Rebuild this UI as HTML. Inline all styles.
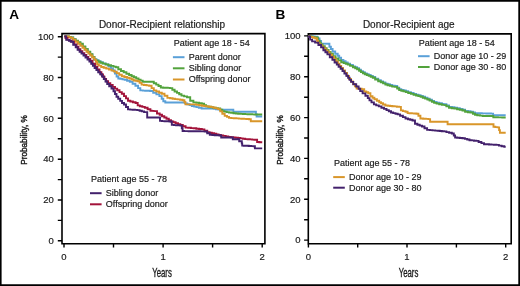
<!DOCTYPE html>
<html><head><meta charset="utf-8"><style>
html,body{margin:0;padding:0;background:#fff;}
svg{display:block;will-change:transform;}
text{font-family:"Liberation Sans", sans-serif;fill:#1a1a1a;stroke:#1a1a1a;stroke-width:0.18px;}
.pl{font-size:13.6px;font-weight:bold;fill:#000;stroke:none;}
.tt{font-size:10px;}
.tl{font-size:9.5px;}
.lg{font-size:9px;}
.ax{font-size:12px;stroke-width:0.35px;}
.yl{font-size:9.5px;stroke-width:0.4px;}
</style></head><body>
<svg width="520" height="286" viewBox="0 0 520 286">
<rect width="520" height="286" fill="#fff"/><path d="M0 0H520V1.7H0Z M0 0H1.6V286H0Z M518.3 0H520V286H518.3Z M0 284.2H520V286H0Z" fill="#000"/>
<text x="9.2" y="19.3" class="pl">A</text>
<text x="275.6" y="19.3" class="pl">B</text>
<text x="98.9" y="27.9" class="tt">Donor-Recipient relationship</text>
<text x="362.9" y="28" class="tt">Donor-Recipient age</text>
<path d="M62 33.6H264.9V243.8H62Z" fill="none" stroke="#000" stroke-width="1.6" stroke-linejoin="miter"/>
<path d="M57.8 240.8H62M57.8 220.4H62M57.8 200H62M57.8 179.6H62M57.8 159.2H62M57.8 138.8H62M57.8 118.3H62M57.8 97.9H62M57.8 77.5H62M57.8 57.1H62M57.8 36.7H62M64 243.8V247.6M113.5 243.8V247.6M163.1 243.8V247.6M212.6 243.8V247.6M262.2 243.8V247.6" stroke="#000" stroke-width="1.4" fill="none"/>
<text x="53.9" y="244.1" text-anchor="end" class="tl">0</text>
<text x="53.9" y="203.2" text-anchor="end" class="tl">20</text>
<text x="53.9" y="162.4" text-anchor="end" class="tl">40</text>
<text x="53.9" y="121.6" text-anchor="end" class="tl">60</text>
<text x="53.9" y="80.8" text-anchor="end" class="tl">80</text>
<text x="53.9" y="40" text-anchor="end" class="tl">100</text>
<text x="64" y="260.3" text-anchor="middle" class="tl">0</text>
<text x="163.1" y="260.3" text-anchor="middle" class="tl">1</text>
<text x="262.2" y="260.3" text-anchor="middle" class="tl">2</text>
<path d="M308.3 33.9H511.2V243.8H308.3Z" fill="none" stroke="#000" stroke-width="1.6" stroke-linejoin="miter"/>
<path d="M304.1 240.1H308.3M304.1 219.7H308.3M304.1 199.3H308.3M304.1 178.8H308.3M304.1 158.4H308.3M304.1 138H308.3M304.1 117.6H308.3M304.1 97.2H308.3M304.1 76.7H308.3M304.1 56.3H308.3M304.1 35.9H308.3M308.4 243.8V247.6M357.7 243.8V247.6M407 243.8V247.6M456.4 243.8V247.6M505.7 243.8V247.6" stroke="#000" stroke-width="1.4" fill="none"/>
<text x="300.6" y="243.3" text-anchor="end" class="tl">0</text>
<text x="300.6" y="202.5" text-anchor="end" class="tl">20</text>
<text x="300.6" y="161.7" text-anchor="end" class="tl">40</text>
<text x="300.6" y="120.8" text-anchor="end" class="tl">60</text>
<text x="300.6" y="80" text-anchor="end" class="tl">80</text>
<text x="300.6" y="39.2" text-anchor="end" class="tl">100</text>
<text x="308.4" y="260.3" text-anchor="middle" class="tl">0</text>
<text x="407" y="260.3" text-anchor="middle" class="tl">1</text>
<text x="505.7" y="260.3" text-anchor="middle" class="tl">2</text>
<text transform="translate(162,276.6) scale(0.65,1)" text-anchor="middle" class="ax">Years</text>
<text transform="translate(408.5,276.6) scale(0.65,1)" text-anchor="middle" class="ax">Years</text>
<text transform="translate(26.9,140) rotate(-90) scale(0.865,1)" text-anchor="middle" class="yl">Probability, %</text>
<text transform="translate(282.9,140) rotate(-90) scale(0.865,1)" text-anchor="middle" class="yl">Probability, %</text>
<path d="M64.4 36.4 L67.9 36.4 L68.9 36.4 L68.9 37 L71 37 L71 37.5 L72 37.5 L73.2 37.5 L73.2 39.2 L75.6 39.2 L75.6 41 L78 41 L78 42.8 L80.4 42.8 L80.4 44.5 L81.6 44.5 L82.8 44.5 L82.8 47 L85.3 47 L85.3 49.5 L87.7 49.5 L87.7 52 L90.2 52 L90.2 54.5 L91.4 54.5 L92.4 54.5 L92.4 56.9 L94.4 56.9 L94.4 59.2 L95.4 59.2 L96.4 59.2 L96.4 60.2 L98.5 60.2 L98.5 61.3 L100.5 61.3 L100.5 62.3 L101.5 62.3 L102.8 62.3 L102.8 63.4 L105.6 63.4 L105.6 64.5 L106.9 64.5 L108.5 64.5 L108.5 66.5 L110 66.5 L111 66.5 L111 68.5 L113 68.5 L113 70.5 L114 70.5 L114.9 70.5 L114.9 73.5 L116.6 73.5 L116.6 76.5 L117.5 76.5 L118.3 76.5 L118.3 78.5 L119.2 78.5 L120.3 78.5 L120.3 78.9 L122.5 78.9 L122.5 79.4 L124.7 79.4 L124.7 79.8 L125.8 79.8 L127.1 79.8 L127.1 80.8 L129.8 80.8 L129.8 81.7 L131.1 81.7 L132.6 81.7 L132.6 83.8 L135.4 83.8 L135.4 85.8 L136.9 85.8 L138.1 85.8 L138.1 88.1 L140.3 88.1 L140.3 90.4 L141.5 90.4 L142.8 90.4 L142.8 90.6 L145.2 90.6 L145.2 90.7 L147.8 90.7 L147.8 90.8 L150.2 90.8 L150.2 91 L151.5 91 L153.2 91 L153.2 92.7 L155 92.7 L156.4 92.7 L156.4 94.4 L159.4 94.4 L159.4 96.1 L160.8 96.1 L161.7 96.1 L161.7 98.7 L163.3 98.7 L163.3 101.3 L164.2 101.3 L165.3 101.3 L165.3 102.5 L166.5 102.5 L183.8 102.5 L185 102.5 L185 103.4 L187.2 103.4 L187.2 104.2 L189.6 104.2 L189.6 105.1 L191.8 105.1 L191.8 106 L193 106 L194.2 106 L194.2 106.6 L196.5 106.6 L196.5 107.1 L198.8 107.1 L198.8 107.7 L200 107.7 L201.6 107.7 L201.6 108.5 L203.1 108.5 L212.5 108.5 L213.7 108.5 L213.7 108.8 L216 108.8 L216 109.2 L218.4 109.2 L218.4 109.5 L220.7 109.5 L220.7 109.8 L221.9 109.8 L232.7 109.8 L233.3 109.8 L233.3 111.8 L234 111.8 L255.6 111.8 L255.9 111.8 L255.9 114.2 L256.6 114.2 L256.6 116.5 L256.9 116.5 L262.2 116.5" fill="none" stroke="#5aa0d8" stroke-width="1.9" stroke-linejoin="miter" stroke-linecap="butt"/>
<path d="M64.4 36.4 L67.9 36.4 L68.9 36.4 L68.9 37 L71 37 L71 37.5 L72 37.5 L73.2 37.5 L73.2 39.1 L75.6 39.1 L75.6 40.6 L78 40.6 L78 42.2 L80.4 42.2 L80.4 43.8 L81.6 43.8 L82.8 43.8 L82.8 46.4 L85.3 46.4 L85.3 49 L87.7 49 L87.7 51.6 L90.2 51.6 L90.2 54.2 L91.4 54.2 L92.4 54.2 L92.4 56.9 L94.4 56.9 L94.4 59.6 L95.4 59.6 L96.4 59.6 L96.4 60.7 L98.5 60.7 L98.5 61.7 L100.5 61.7 L100.5 62.8 L101.5 62.8 L102.8 62.8 L102.8 63.6 L105.6 63.6 L105.6 64.4 L106.9 64.4 L108.2 64.4 L108.2 65.2 L111 65.2 L111 65.9 L112.3 65.9 L113.5 65.9 L113.5 66.6 L115.8 66.6 L115.8 67.3 L116.9 67.3 L118.3 67.3 L118.3 69.2 L121 69.2 L121 71 L122.4 71 L123.7 71 L123.7 72.3 L126.4 72.3 L126.4 73.7 L129.1 73.7 L129.1 75 L130.4 75 L131.6 75 L131.6 76.2 L133.9 76.2 L133.9 77.3 L136.2 77.3 L136.2 78.5 L137.4 78.5 L138.5 78.5 L138.5 79.6 L140.6 79.6 L140.6 80.6 L142.7 80.6 L142.7 81.7 L143.8 81.7 L152.7 81.7 L153.8 81.7 L153.8 83.2 L156.2 83.2 L156.2 84.6 L157.3 84.6 L158.5 84.6 L158.5 86 L160.8 86 L160.8 87.5 L161.9 87.5 L163.1 87.5 L163.1 87.7 L165.3 87.7 L165.3 87.8 L167.7 87.8 L167.7 87.9 L169.9 87.9 L169.9 88.1 L171.1 88.1 L172.3 88.1 L172.3 89.8 L174.6 89.8 L174.6 91.5 L175.8 91.5 L177 91.5 L177 92.9 L179.2 92.9 L179.2 94.2 L181.5 94.2 L181.5 95.6 L182.7 95.6 L184.1 95.6 L184.1 96.4 L187 96.4 L187 97.3 L188.4 97.3 L190.2 97.3 L190.2 100.8 L191.9 100.8 L193.4 100.8 L193.4 102.4 L195 102.4 L196.3 102.4 L196.3 102.8 L199.1 102.8 L199.1 103.3 L201.8 103.3 L201.8 103.7 L203.1 103.7 L204.1 103.7 L204.1 105.1 L206.1 105.1 L206.1 106.4 L207.1 106.4 L208.3 106.4 L208.3 106.8 L210.7 106.8 L210.7 107.2 L213.1 107.2 L213.1 107.7 L215.6 107.7 L215.6 108.1 L218 108.1 L218 108.5 L219.2 108.5 L220.2 108.5 L220.2 109.8 L222.3 109.8 L222.3 111.2 L223.3 111.2 L224.4 111.2 L224.4 111.6 L226.7 111.6 L226.7 112.1 L228.9 112.1 L228.9 112.5 L230 112.5 L231.2 112.5 L231.2 112.8 L233.5 112.8 L233.5 113.2 L235.9 113.2 L235.9 113.5 L238.2 113.5 L238.2 113.8 L239.4 113.8 L240.6 113.8 L240.6 113.9 L242.9 113.9 L242.9 114 L245.2 114 L245.2 114.1 L247.5 114.1 L247.5 114.2 L249.8 114.2 L249.8 114.3 L252.1 114.3 L252.1 114.4 L254.4 114.4 L254.4 114.5 L255.6 114.5 L262.2 114.5" fill="none" stroke="#52a33c" stroke-width="1.9" stroke-linejoin="miter" stroke-linecap="butt"/>
<path d="M64.4 36.4 L67.9 36.4 L68.9 36.4 L68.9 37.1 L70.8 37.1 L70.8 37.9 L71.8 37.9 L73 37.9 L73 39.8 L75.5 39.8 L75.5 41.8 L76.7 41.8 L77.9 41.8 L77.9 43.8 L80.4 43.8 L80.4 45.7 L81.6 45.7 L82.6 45.7 L82.6 47.7 L84.5 47.7 L84.5 49.7 L85.5 49.7 L86.5 49.7 L86.5 51.7 L88.4 51.7 L88.4 53.6 L89.4 53.6 L90.4 53.6 L90.4 55.5 L92.3 55.5 L92.3 57.5 L93.3 57.5 L94.3 57.5 L94.3 59.6 L95.4 59.6 L96 59.6 L96 61.9 L97.1 61.9 L97.1 64.2 L97.7 64.2 L98.8 64.2 L98.8 65.6 L101.2 65.6 L101.2 67 L102.3 67 L103.7 67 L103.7 67.8 L106.3 67.8 L106.3 68.6 L107.7 68.6 L109 68.6 L109 69.6 L111.6 69.6 L111.6 70.6 L114.1 70.6 L114.1 71.6 L115.4 71.6 L116.7 71.6 L116.7 73.1 L119.2 73.1 L119.2 74.7 L121.8 74.7 L121.8 76.2 L123.1 76.2 L124.4 76.2 L124.4 77 L127 77 L127 77.7 L129.5 77.7 L129.5 78.5 L130.8 78.5 L131.8 78.5 L131.8 79.5 L133.7 79.5 L133.7 80.5 L134.6 80.5 L135.6 80.5 L135.6 80.8 L137.5 80.8 L137.5 81.2 L138.5 81.2 L139.6 81.2 L139.6 82.9 L141.6 82.9 L141.6 84.6 L142.7 84.6 L144 84.6 L144 85 L146.6 85 L146.6 85.4 L149.1 85.4 L149.1 85.8 L150.4 85.8 L151.6 85.8 L151.6 88.1 L153.8 88.1 L153.8 90.4 L155 90.4 L156.3 90.4 L156.3 91.5 L159.1 91.5 L159.1 92.7 L161.8 92.7 L161.8 93.8 L163.1 93.8 L164.5 93.8 L164.5 95.8 L167.4 95.8 L167.4 97.9 L168.8 97.9 L170.1 97.9 L170.1 98.3 L172.6 98.3 L172.6 98.7 L175.1 98.7 L175.1 99.1 L177.6 99.1 L177.6 99.4 L180.1 99.4 L180.1 99.8 L182.6 99.8 L182.6 100.2 L183.8 100.2 L184.4 100.2 L184.4 102.2 L185.5 102.2 L185.5 104.2 L186.1 104.2 L195 104.4 L196.3 104.4 L196.3 104.9 L199.1 104.9 L199.1 105.3 L201.8 105.3 L201.8 105.8 L203.1 105.8 L204.3 105.8 L204.3 106.1 L206.6 106.1 L206.6 106.4 L209 106.4 L209 106.8 L211.3 106.8 L211.3 107.1 L212.5 107.1 L213.6 107.1 L213.6 107.8 L215.8 107.8 L215.8 108.4 L218.1 108.4 L218.1 109.1 L219.2 109.1 L220.2 109.1 L220.2 111.4 L222.3 111.4 L222.3 113.8 L223.3 113.8 L224.7 113.8 L224.7 115.9 L226 115.9 L227 115.9 L227 116.9 L229 116.9 L229 117.9 L230 117.9 L231.3 117.9 L231.3 118.1 L233.8 118.1 L233.8 118.2 L236.3 118.2 L236.3 118.4 L238.8 118.4 L238.8 118.6 L241.4 118.6 L241.4 118.7 L243.9 118.7 L243.9 118.9 L246.4 118.9 L246.4 119 L248.9 119 L248.9 119.2 L250.2 119.2 L250.8 119.2 L250.8 121.2 L251.5 121.2 L262.2 121.2" fill="none" stroke="#d9962a" stroke-width="1.9" stroke-linejoin="miter" stroke-linecap="butt"/>
<path d="M64.4 36.4 L65.5 36.4 L65.5 38 L67.5 38 L67.5 39.6 L68.6 39.6 L69.6 39.6 L69.6 40.6 L71.6 40.6 L71.6 41.6 L72.6 41.6 L74 41.6 L74 44.4 L75.5 44.4 L76.5 44.4 L76.5 46.8 L78.4 46.8 L78.4 49.2 L79.4 49.2 L80.4 49.2 L80.4 51.2 L82.3 51.2 L82.3 53.1 L83.3 53.1 L84.3 53.1 L84.3 55 L86.3 55 L86.3 57 L87.3 57 L88.3 57 L88.3 58.9 L90.2 58.9 L90.2 60.8 L91.2 60.8 L92.5 60.8 L92.5 63.8 L95 63.8 L95 66.8 L96.2 66.8 L97.3 66.8 L97.3 69.5 L99.5 69.5 L99.5 72.3 L100.6 72.3 L101.4 72.3 L101.4 74.5 L103 74.5 L103 76.8 L104.5 76.8 L104.5 79 L106.1 79 L106.1 81.2 L106.9 81.2 L108.1 81.2 L108.1 83.1 L110.3 83.1 L110.3 85 L112.7 85 L112.7 86.9 L113.8 86.9 L115 86.9 L115 88.6 L117.2 88.6 L117.2 90.3 L119.5 90.3 L119.5 92.1 L121.8 92.1 L121.8 93.8 L123 93.8 L124 93.8 L124 96.1 L126 96.1 L126 98.4 L128 98.4 L128 100.7 L129 100.7 L130.3 100.7 L130.3 101.5 L132.9 101.5 L132.9 102.2 L135.6 102.2 L135.6 103 L136.9 103 L137.7 103 L137.7 105.4 L138.5 105.4 L139.8 105.4 L139.8 106.2 L142.3 106.2 L142.3 106.9 L144.8 106.9 L144.8 107.7 L146.1 107.7 L147.6 107.7 L147.6 109.2 L150.4 109.2 L150.4 110.8 L151.9 110.8 L155.4 111.1 L157 111.1 L157 113.5 L158.6 113.5 L159.7 113.5 L159.7 114.8 L162 114.8 L162 116.2 L164.3 116.2 L164.3 117.5 L165.4 117.5 L166.5 117.5 L166.5 118.8 L168.8 118.8 L168.8 120.2 L171 120.2 L171 121.5 L172.1 121.5 L173.3 121.5 L173.3 122.3 L175.6 122.3 L175.6 123.2 L178 123.2 L178 124.1 L180.3 124.1 L180.3 124.9 L181.5 124.9 L182.8 124.9 L182.8 126.2 L185.6 126.2 L185.6 127.6 L186.9 127.6 L188.2 127.6 L188.2 127.8 L190.9 127.8 L190.9 128.1 L193.7 128.1 L193.7 128.3 L195 128.3 L196.3 128.3 L196.3 128.7 L199.1 128.7 L199.1 129 L201.8 129 L201.8 129.4 L203.1 129.4 L204.4 129.4 L204.4 130.8 L207.2 130.8 L207.2 132.1 L208.5 132.1 L209.6 132.1 L209.6 132.7 L211.8 132.7 L211.8 133.2 L214.1 133.2 L214.1 133.8 L216.3 133.8 L216.3 134.4 L218.6 134.4 L218.6 134.9 L220.8 134.9 L220.8 135.5 L221.9 135.5 L223.2 135.5 L223.2 135.9 L225.7 135.9 L225.7 136.4 L228.3 136.4 L228.3 136.9 L230.8 136.9 L230.8 137.3 L232.1 137.3 L233.3 137.3 L233.3 137.5 L235.6 137.5 L235.6 137.8 L238 137.8 L238 138 L239.2 138 L240.4 138 L240.4 138.4 L242.8 138.4 L242.8 138.7 L245.2 138.7 L245.2 139.1 L246.4 139.1 L247.6 139.1 L247.6 139.3 L249.8 139.3 L249.8 139.4 L252.2 139.4 L252.2 139.6 L254.4 139.6 L254.4 139.8 L255.6 139.8 L257.1 139.8 L257.1 142 L258.5 142 L259.4 142 L259.4 142.2 L261.3 142.2 L261.3 142.3 L262.2 142.3" fill="none" stroke="#a3133a" stroke-width="1.9" stroke-linejoin="miter" stroke-linecap="butt"/>
<path d="M64.4 36.4 L66.2 36.4 L66.2 39.9 L67.9 39.9 L68.9 39.9 L68.9 40.8 L70.8 40.8 L70.8 41.8 L71.8 41.8 L73.2 41.8 L73.2 44.8 L74.7 44.8 L75.7 44.8 L75.7 47.2 L77.6 47.2 L77.6 49.7 L78.6 49.7 L79.6 49.7 L79.6 51.7 L81.5 51.7 L81.5 53.6 L82.5 53.6 L83.5 53.6 L83.5 55.5 L85.5 55.5 L85.5 57.5 L86.5 57.5 L87.5 57.5 L87.5 59.5 L89.4 59.5 L89.4 61.5 L90.4 61.5 L91.2 61.5 L91.2 63.7 L92.9 63.7 L92.9 65.8 L94.6 65.8 L94.6 68 L95.4 68 L96.4 68 L96.4 70.1 L98.2 70.1 L98.2 72.2 L99.2 72.2 L100.2 72.2 L100.2 74.3 L102 74.3 L102 76.5 L103 76.5 L103.8 76.5 L103.8 79 L105.5 79 L105.5 81.5 L107.2 81.5 L107.2 84 L108 84 L109.2 84 L109.2 86.2 L111.5 86.2 L111.5 88.5 L112.7 88.5 L113.5 88.5 L113.5 91.2 L115 91.2 L115 94 L116.5 94 L116.5 96.7 L117.3 96.7 L118.2 96.7 L118.2 98.8 L120.2 98.8 L120.2 100.9 L122 100.9 L122 103 L123 103 L124 103 L124 104.5 L125 104.5 L126 104.5 L126 107 L128 107 L128 109.4 L129 109.4 L130.2 109.4 L130.2 109.6 L132.6 109.6 L132.6 109.8 L134.9 109.8 L134.9 109.9 L137.3 109.9 L137.3 110.1 L138.5 110.1 L139.6 110.1 L139.6 110.8 L141.8 110.8 L141.8 111.4 L144.1 111.4 L144.1 112.1 L145.2 112.1 L147.2 112.1 L147.2 117.5 L159.3 117.5 L160 117.5 L160 120.9 L160.7 120.9 L162 120.9 L162 121.1 L164.5 121.1 L164.5 121.2 L167 121.2 L167 121.3 L169.5 121.3 L169.5 121.5 L170.8 121.5 L171.8 121.5 L171.8 124.9 L172.8 124.9 L173.9 124.9 L173.9 125.1 L176.1 125.1 L176.1 125.2 L178.2 125.2 L178.2 125.4 L180.4 125.4 L180.4 125.6 L181.5 125.6 L181.8 125.6 L181.8 128.3 L182.6 128.3 L182.6 131 L182.9 131 L184 131 L184 131.1 L186.3 131.1 L186.3 131.1 L188.6 131.1 L188.6 131.2 L190.9 131.2 L190.9 131.2 L193.2 131.2 L193.2 131.2 L195.5 131.2 L195.5 131.3 L197.8 131.3 L197.8 131.3 L200.1 131.3 L200.1 131.4 L202.4 131.4 L202.4 131.4 L204.7 131.4 L204.7 131.5 L205.8 131.5 L207.2 131.5 L207.2 133.2 L209.8 133.2 L209.8 134.8 L211.2 134.8 L212.4 134.8 L212.4 135 L214.7 135 L214.7 135.2 L217.1 135.2 L217.1 135.3 L219.4 135.3 L219.4 135.5 L220.6 135.5 L221.2 135.5 L221.2 137.5 L221.9 137.5 L232.8 137.5 L232.8 139.3 L239.2 139.3 L239.2 141.3 L241.5 141.3 L241.8 141.3 L241.8 143.4 L242.2 143.4 L242.2 145.6 L242.5 145.6 L243.7 145.6 L243.7 145.7 L246.2 145.7 L246.2 145.8 L248.7 145.8 L248.7 146 L251.2 146 L251.2 146.1 L253.7 146.1 L253.7 146.2 L254.9 146.2 L254.9 148.3 L262.2 148.4" fill="none" stroke="#43216c" stroke-width="1.9" stroke-linejoin="miter" stroke-linecap="butt"/>
<path d="M308.4 36 L309.7 36 L309.7 36.3 L312.2 36.3 L312.2 36.5 L314.7 36.5 L314.7 36.8 L316 36.8 L317.2 36.8 L317.2 38.5 L318.5 38.5 L319.5 38.5 L319.5 41 L320.5 41 L321.1 41 L321.1 43.5 L321.7 43.5 L328.8 43.8 L329.4 43.8 L329.4 46.7 L330 46.7 L330.9 46.7 L330.9 49 L331.8 49 L332.6 49 L332.6 51.5 L333.5 51.5 L335.2 51.5 L335.2 53.8 L336.9 53.8 L337.7 53.8 L337.7 55.8 L339.2 55.8 L339.2 57.7 L340 57.7 L341.1 57.7 L341.1 60 L342.3 60 L343.4 60 L343.4 61.2 L345.6 61.2 L345.6 62.5 L347.7 62.5 L347.7 63.7 L348.8 63.7 L350.1 63.7 L350.1 65 L352.9 65 L352.9 66.4 L354.2 66.4 L355.2 66.4 L355.2 67.3 L357.1 67.3 L357.1 68.3 L358.1 68.3 L359.1 68.3 L359.1 69.8 L360.9 69.8 L360.9 71.2 L361.9 71.2 L362.9 71.2 L362.9 72.3 L364.8 72.3 L364.8 73.4 L365.8 73.4 L366.8 73.4 L366.8 74.2 L368.7 74.2 L368.7 75 L369.6 75 L370.7 75 L370.7 75.9 L372.8 75.9 L372.8 76.9 L373.8 76.9 L375.2 76.9 L375.2 78.6 L378.2 78.6 L378.2 80.3 L379.6 80.3 L380.8 80.3 L380.8 81.4 L383.1 81.4 L383.1 82.5 L385.4 82.5 L385.4 83.6 L386.5 83.6 L387.6 83.6 L387.6 84.3 L389.9 84.3 L389.9 85 L392.2 85 L392.2 85.7 L393.4 85.7 L394.8 85.7 L394.8 86 L396.2 86 L397.2 86 L397.2 87.6 L399.2 87.6 L399.2 89.2 L400.2 89.2 L401.3 89.2 L401.3 89.9 L403.5 89.9 L403.5 90.5 L405.8 90.5 L405.8 91.2 L406.9 91.2 L408.2 91.2 L408.2 92.1 L410.9 92.1 L410.9 93 L413.6 93 L413.6 93.9 L415 93.9 L416.1 93.9 L416.1 94.6 L418.4 94.6 L418.4 95.2 L420.6 95.2 L420.6 95.9 L421.7 95.9 L422.8 95.9 L422.8 96.8 L425.1 96.8 L425.1 97.7 L427.4 97.7 L427.4 98.6 L428.5 98.6 L429.6 98.6 L429.6 99.7 L431.9 99.7 L431.9 100.9 L434.1 100.9 L434.1 102 L435.2 102 L436.6 102 L436.6 102.7 L439.2 102.7 L439.2 103.3 L441.9 103.3 L441.9 104 L443.3 104 L445 104.2 L446.4 104.2 L446.4 105.5 L449 105.5 L449 106.9 L450.4 106.9 L451.8 106.9 L451.8 107.2 L454.4 107.2 L454.4 107.6 L455.8 107.6 L457.1 107.6 L457.1 108.3 L459.8 108.3 L459.8 108.9 L462.5 108.9 L462.5 109.6 L463.8 109.6 L465.1 109.6 L465.1 110.9 L466.5 110.9 L467.9 110.9 L467.9 111.3 L470.5 111.3 L470.5 111.8 L471.9 111.8 L472.9 111.8 L472.9 112.5 L475 112.5 L475 113.2 L476 113.2 L477.1 113.2 L477.1 113.3 L479.4 113.3 L479.4 113.3 L481.8 113.3 L481.8 113.4 L484.1 113.4 L484.1 113.4 L486.4 113.4 L486.4 113.5 L488.7 113.5 L488.7 113.5 L491 113.5 L491 113.6 L492.1 113.6 L493.1 113.6 L493.1 115 L494 115 L505.7 115.3" fill="none" stroke="#5aa0d8" stroke-width="1.9" stroke-linejoin="miter" stroke-linecap="butt"/>
<path d="M308.4 36 L309.3 36 L309.3 36.4 L311.1 36.4 L311.1 36.8 L312 36.8 L313.2 36.8 L313.2 37.1 L315.6 37.1 L315.6 37.5 L316.8 37.5 L318 37.5 L318 40.7 L319.1 40.7 L319.7 40.7 L319.7 42.6 L320.8 42.6 L320.8 44.5 L321.4 44.5 L322.6 44.5 L322.6 46.2 L323.8 46.2 L324.8 46.2 L324.8 48.1 L326.7 48.1 L326.7 50 L327.7 50 L328.6 50 L328.6 51.9 L330.6 51.9 L330.6 53.8 L331.5 53.8 L332.9 53.8 L332.9 56.1 L335.5 56.1 L335.5 58.5 L336.9 58.5 L338.3 58.5 L338.3 60.4 L341.2 60.4 L341.2 62.3 L342.7 62.3 L343.7 62.3 L343.7 63.1 L345.8 63.1 L345.8 63.8 L347.8 63.8 L347.8 64.6 L348.8 64.6 L350.1 64.6 L350.1 65.9 L352.9 65.9 L352.9 67.3 L354.2 67.3 L355.2 67.3 L355.2 68.2 L357.1 68.2 L357.1 69.2 L358.1 69.2 L359.1 69.2 L359.1 70.7 L360.9 70.7 L360.9 72.1 L361.9 72.1 L362.9 72.1 L362.9 73.2 L364.8 73.2 L364.8 74.3 L365.8 74.3 L366.8 74.3 L366.8 75.1 L368.7 75.1 L368.7 75.9 L369.6 75.9 L370.7 75.9 L370.7 76.8 L372.8 76.8 L372.8 77.8 L373.8 77.8 L375.2 77.8 L375.2 79.5 L378.2 79.5 L378.2 81.2 L379.6 81.2 L380.8 81.2 L380.8 82.3 L383.1 82.3 L383.1 83.4 L385.4 83.4 L385.4 84.5 L386.5 84.5 L387.6 84.5 L387.6 85.2 L389.9 85.2 L389.9 85.9 L392.2 85.9 L392.2 86.6 L393.4 86.6 L394.8 86.6 L394.8 86.9 L396.2 86.9 L397.2 86.9 L397.2 88.5 L399.2 88.5 L399.2 90.1 L400.2 90.1 L401.3 90.1 L401.3 90.8 L403.5 90.8 L403.5 91.4 L405.8 91.4 L405.8 92.1 L406.9 92.1 L408.2 92.1 L408.2 93 L410.9 93 L410.9 93.9 L413.6 93.9 L413.6 94.8 L415 94.8 L416.1 94.8 L416.1 95.5 L418.4 95.5 L418.4 96.1 L420.6 96.1 L420.6 96.8 L421.7 96.8 L422.8 96.8 L422.8 97.7 L425.1 97.7 L425.1 98.6 L427.4 98.6 L427.4 99.5 L428.5 99.5 L429.6 99.5 L429.6 100.6 L431.9 100.6 L431.9 101.8 L434.1 101.8 L434.1 102.9 L435.2 102.9 L436.6 102.9 L436.6 103.6 L439.2 103.6 L439.2 104.2 L441.9 104.2 L441.9 104.9 L443.3 104.9 L445 105.1 L446.4 105.1 L446.4 106.4 L449 106.4 L449 107.8 L450.4 107.8 L451.8 107.8 L451.8 108.2 L454.4 108.2 L454.4 108.5 L455.8 108.5 L457.1 108.5 L457.1 109.2 L459.8 109.2 L459.8 109.8 L462.5 109.8 L462.5 110.5 L463.8 110.5 L465.1 110.5 L465.1 111.8 L466.5 111.8 L467.9 111.8 L467.9 112.2 L470.5 112.2 L470.5 112.5 L471.9 112.5 L472.9 112.5 L472.9 113.7 L475 113.7 L475 114.8 L476 114.8 L477.3 114.8 L477.3 115.2 L480 115.2 L480 115.6 L482.7 115.6 L482.7 116 L484 116 L492.1 116 L493.3 116 L493.3 117.2 L494.5 117.2 L495.6 117.2 L495.6 117.3 L497.9 117.3 L497.9 117.4 L500.1 117.4 L500.1 117.4 L502.3 117.4 L502.3 117.5 L504.6 117.5 L504.6 117.6 L505.7 117.6" fill="none" stroke="#52a33c" stroke-width="1.9" stroke-linejoin="miter" stroke-linecap="butt"/>
<path d="M308.4 36.2 L309.3 36.2 L309.3 36.6 L311.1 36.6 L311.1 37 L312 37 L313.1 37 L313.1 37.8 L315.4 37.8 L315.4 38.5 L316.5 38.5 L317 38.5 L317 40.8 L318 40.8 L318 43 L318.5 43 L319.5 43 L319.5 44.8 L321.6 44.8 L321.6 46.7 L323.6 46.7 L323.6 48.5 L324.6 48.5 L325.6 48.5 L325.6 50.4 L327.5 50.4 L327.5 52.3 L328.5 52.3 L329.6 52.3 L329.6 54.6 L332 54.6 L332 56.9 L333.1 56.9 L334.1 56.9 L334.1 59.2 L336 59.2 L336 61.5 L337.9 61.5 L337.9 63.8 L338.8 63.8 L339.6 63.8 L339.6 65.9 L341.2 65.9 L341.2 68 L342 68 L343 68 L343 70.5 L345 70.5 L345 73 L346 73 L347 73 L347 76 L349 76 L349 79 L350 79 L351 79 L351 81.5 L353 81.5 L353 84 L354 84 L354.9 84 L354.9 86.2 L356.6 86.2 L356.6 88.5 L357.5 88.5 L358.9 88.5 L358.9 88.8 L361.7 88.8 L361.7 89.2 L363.1 89.2 L364.2 89.2 L364.2 91.5 L365.4 91.5 L366.3 91.5 L366.3 92.3 L368.2 92.3 L368.2 93.1 L369.2 93.1 L370.4 93.1 L370.4 96.2 L371.5 96.2 L372.5 96.2 L372.5 97.7 L374.4 97.7 L374.4 99.2 L375.4 99.2 L376.9 99.2 L376.9 100.8 L378.5 100.8 L379.2 100.8 L379.2 102.2 L380 102.2 L381 102.2 L381 103.3 L383 103.3 L383 104.5 L384 104.5 L385.4 104.5 L385.4 105.5 L386.7 105.5 L387.8 105.5 L387.8 105.7 L390.1 105.7 L390.1 106 L392.3 106 L392.3 106.2 L394.6 106.2 L394.6 106.4 L396.8 106.4 L396.8 106.7 L399.1 106.7 L399.1 106.9 L400.2 106.9 L400.9 106.9 L400.9 110.4 L401.5 110.4 L402.9 110.4 L402.9 111.1 L405.5 111.1 L405.5 111.7 L406.9 111.7 L407.6 111.7 L407.6 113.1 L408.3 113.1 L409.5 113.1 L409.5 113.2 L411.8 113.2 L411.8 113.4 L414.2 113.4 L414.2 113.5 L416.5 113.5 L416.5 113.7 L417.7 113.7 L418.4 113.7 L418.4 115.8 L419 115.8 L420.4 115.8 L420.4 118.5 L421.7 118.5 L423.1 118.5 L423.1 118.7 L425.8 118.7 L425.8 118.9 L428.4 118.9 L428.4 119.1 L429.8 119.1 L430.1 119.1 L430.1 121.8 L430.5 121.8 L447.3 121.8 L447.6 121.8 L447.6 124.3 L448 124.3 L492.8 124.3 L493.5 124.3 L493.5 126.7 L494.1 126.7 L495.3 126.7 L495.3 127.1 L497.6 127.1 L497.6 127.4 L498.8 127.4 L499.1 127.4 L499.1 130.1 L499.9 130.1 L499.9 132.8 L500.2 132.8 L505.7 132.8" fill="none" stroke="#d9962a" stroke-width="1.9" stroke-linejoin="miter" stroke-linecap="butt"/>
<path d="M308.4 36.1 L308.8 36.1 L308.8 36.8 L309.2 36.8 L310.1 36.8 L310.1 39.6 L311 39.6 L312.1 39.6 L312.1 41.4 L313.3 41.4 L315.1 41.4 L315.1 42.6 L316.9 42.6 L318.4 42.6 L318.4 45 L319.9 45 L321.1 45 L321.1 47.4 L322.3 47.4 L323.4 47.4 L323.4 50.2 L324.5 50.2 L325.4 50.2 L325.4 52.3 L327.4 52.3 L327.4 54.4 L328.3 54.4 L329.8 54.4 L329.8 57.3 L331.2 57.3 L332.4 57.3 L332.4 59.9 L334.6 59.9 L334.6 62.5 L335.8 62.5 L336.8 62.5 L336.8 64.6 L338.6 64.6 L338.6 66.7 L340.6 66.7 L340.6 68.8 L341.5 68.8 L342.5 68.8 L342.5 71.1 L344.4 71.1 L344.4 73.5 L346.3 73.5 L346.3 75.8 L347.3 75.8 L348.1 75.8 L348.1 77.8 L349.6 77.8 L349.6 79.9 L351.1 79.9 L351.1 81.9 L351.9 81.9 L353.3 81.9 L353.3 84.2 L356.2 84.2 L356.2 86.5 L357.7 86.5 L358.6 86.5 L358.6 88.8 L360.2 88.8 L360.2 91.1 L361.1 91.1 L362.6 91.1 L362.6 93.4 L365.4 93.4 L365.4 95.8 L366.9 95.8 L367.8 95.8 L367.8 98.1 L369.5 98.1 L369.5 100.4 L370.4 100.4 L371.5 100.4 L371.5 102.4 L373.9 102.4 L373.9 104.4 L375 104.4 L376.2 104.4 L376.2 105.4 L378.8 105.4 L378.8 106.4 L380 106.4 L381.4 106.4 L381.4 107.7 L384 107.7 L384 108.9 L385.4 108.9 L386.5 108.9 L386.5 110.1 L388.8 110.1 L388.8 111.3 L391 111.3 L391 112.5 L392.1 112.5 L393.2 112.5 L393.2 113.1 L395.5 113.1 L395.5 113.8 L397.7 113.8 L397.7 114.4 L398.8 114.4 L400.1 114.4 L400.1 115.8 L402.9 115.8 L402.9 117.1 L405.5 117.1 L405.5 118.5 L406.9 118.5 L408 118.5 L408 119.2 L410.2 119.2 L410.2 119.8 L412.5 119.8 L412.5 120.5 L413.6 120.5 L415 120.5 L415 123.8 L416.3 123.8 L417.4 123.8 L417.4 124.7 L419.7 124.7 L419.7 125.6 L422 125.6 L422 126.5 L423.1 126.5 L424.5 126.5 L424.5 128.2 L427.1 128.2 L427.1 129.9 L428.5 129.9 L429.8 129.9 L429.8 130.1 L432.5 130.1 L432.5 130.4 L435.2 130.4 L435.2 130.6 L436.5 130.6 L437.6 130.6 L437.6 130.8 L439.7 130.8 L439.7 131 L441.8 131 L441.8 131.2 L443.9 131.2 L443.9 131.4 L445 131.4 L446.4 131.4 L446.4 132.1 L449.1 132.1 L449.1 132.8 L451.8 132.8 L451.8 133.5 L453.1 133.5 L453.8 133.5 L453.8 135.5 L455.1 135.5 L455.1 137.5 L455.8 137.5 L457.1 137.5 L457.1 137.7 L459.8 137.7 L459.8 138 L462.5 138 L462.5 138.2 L463.8 138.2 L464.9 138.2 L464.9 138.9 L467.2 138.9 L467.2 139.5 L469.5 139.5 L469.5 140.2 L470.6 140.2 L471.7 140.2 L471.7 140.4 L474 140.4 L474 140.7 L476.2 140.7 L476.2 140.9 L477.3 140.9 L478.6 140.9 L478.6 142 L481.4 142 L481.4 143.1 L484 143.1 L484 144.2 L485.4 144.2 L486.6 144.2 L486.6 144.3 L489 144.3 L489 144.5 L491.4 144.5 L491.4 144.6 L493.9 144.6 L493.9 144.8 L496.3 144.8 L496.3 144.9 L497.5 144.9 L498.9 144.9 L498.9 145.6 L501.6 145.6 L501.6 146.2 L504.3 146.2 L504.3 146.9 L505.7 146.9" fill="none" stroke="#43216c" stroke-width="1.9" stroke-linejoin="miter" stroke-linecap="butt"/>
<text x="173.8" y="46.4" class="lg">Patient age 18 - 54</text>
<path d="M172.9 57.2H184.5" stroke="#5aa0d8" stroke-width="2"/><text x="188.7" y="60.1" class="lg">Parent donor</text>
<path d="M172.9 68.3H184.5" stroke="#52a33c" stroke-width="2"/><text x="188.7" y="71.2" class="lg">Sibling donor</text>
<path d="M172.9 79.5H184.5" stroke="#d9962a" stroke-width="2"/><text x="188.7" y="82.4" class="lg">Offspring donor</text>
<text x="91" y="181.9" class="lg">Patient age 55 - 78</text>
<path d="M90 193.2H101.6" stroke="#43216c" stroke-width="2"/><text x="105.8" y="196.1" class="lg">Sibling donor</text>
<path d="M90 204.3H101.6" stroke="#a3133a" stroke-width="2"/><text x="105.8" y="207.2" class="lg">Offspring donor</text>
<text x="418.7" y="45.5" class="lg">Patient age 18 - 54</text>
<path d="M418 56.2H429.6" stroke="#5aa0d8" stroke-width="2"/><text x="433.8" y="59.1" class="lg">Donor age 10 - 29</text>
<path d="M418 67H429.6" stroke="#52a33c" stroke-width="2"/><text x="433.8" y="69.9" class="lg">Donor age 30 - 80</text>
<text x="334" y="165.7" class="lg">Patient age 55 - 78</text>
<path d="M333.2 177.1H344.8" stroke="#d9962a" stroke-width="2"/><text x="349" y="180" class="lg">Donor age 10 - 29</text>
<path d="M333.2 187.7H344.8" stroke="#43216c" stroke-width="2"/><text x="349" y="190.6" class="lg">Donor age 30 - 80</text>
</svg>
</body></html>
